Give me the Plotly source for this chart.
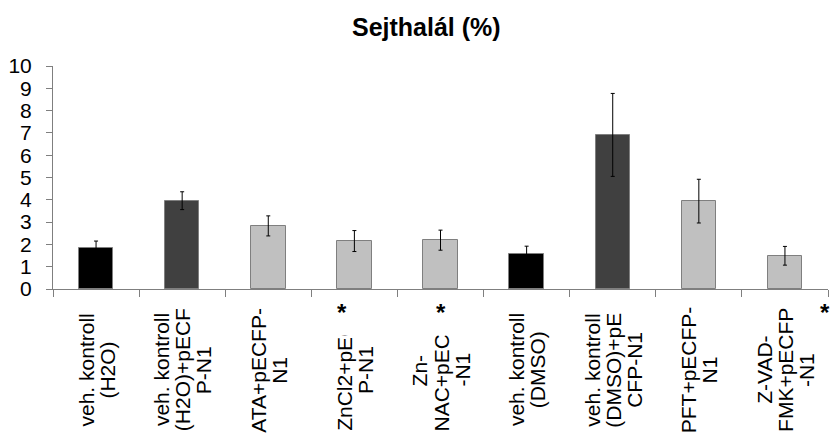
import plotly.graph_objects as go

# ---- data ----
label_lines = [
    ["veh. kontroll", "(H2O)"],
    ["veh. kontroll", "(H2O)+pECF", "P-N1"],
    ["ATA+pECFP-", "N1"],
    ["ZnCl2+pECF", "P-N1"],
    ["Zn-", "NAC+pECFP", "-N1"],
    ["veh. kontroll", "(DMSO)"],
    ["veh. kontroll", "(DMSO)+pE", "CFP-N1"],
    ["PFT+pECFP-", "N1"],
    ["Z-VAD-", "FMK+pECFP", "-N1"],
]
values = [1.86, 3.96, 2.83, 2.15, 2.19, 1.57, 6.91, 3.94, 1.49]
errors = [0.29, 0.40, 0.45, 0.47, 0.45, 0.35, 1.86, 0.98, 0.42]
bar_colors = ["#000000", "#404040", "#c0c0c0", "#c0c0c0", "#c0c0c0",
              "#000000", "#404040", "#c0c0c0", "#c0c0c0"]
y_ticks = list(range(0, 11))
title_text = "Sejthalál (%)"
star_positions = [2.86, 4.01, 8.46]  # x (category units) of significance marks

FONT = "Liberation Sans, Arial, sans-serif"
W, H = 830, 439
ML, MR, MT, MB = 53, 2, 66, 150
plot_h = H - MT - MB

def px_to_paper_y(py):
    return (H - MB - py) / plot_h

x_idx = list(range(len(values)))

fig = go.Figure()
fig.add_trace(go.Bar(
    x=x_idx, y=values, width=0.40,
    marker=dict(color=bar_colors, line=dict(color="#7f7f7f", width=1)),
    error_y=dict(type="data", array=errors, visible=True,
                 color="#000000", thickness=1, width=2),
    showlegend=False,
))

annotations = []
# title
annotations.append(dict(
    text="<b>" + title_text + "</b>", xref="paper", yref="paper",
    x=(426 - ML) / (W - ML - MR), y=px_to_paper_y(27),
    xanchor="center", yanchor="middle", showarrow=False,
    font=dict(family=FONT, size=25, color="#000000"),
))

# category labels, rotated, one annotation per wrapped line
line_step = 0.245
label_center_y = px_to_paper_y(370)
for i, lines in enumerate(label_lines):
    n = len(lines)
    for j, line in enumerate(lines):
        annotations.append(dict(
            text=line, xref="x", yref="paper",
            x=i + (j - (n - 1) / 2) * line_step, y=label_center_y,
            xanchor="center", yanchor="middle", textangle=-90,
            showarrow=False,
            font=dict(family=FONT, size=21, color="#000000"),
        ))

# significance asterisks (their boxes mask part of the labels beneath)
for sx in star_positions:
    annotations.append(dict(
        text="<b>*</b>", xref="x", yref="paper",
        x=sx, y=px_to_paper_y(298),
        xanchor="center", yanchor="top", showarrow=False,
        width=22, height=36, valign="top", align="center",
        bgcolor="#ffffff", borderpad=0,
        font=dict(family=FONT, size=24, color="#000000"),
    ))

fig.update_layout(
    template="none",
    width=W, height=H,
    margin=dict(l=ML, r=MR, t=MT, b=MB, pad=0),
    paper_bgcolor="#ffffff", plot_bgcolor="#ffffff",
    annotations=annotations,
    bargap=0,
    xaxis=dict(
        automargin=False,
        range=[-0.5, len(values) - 0.5],
        tickmode="array",
        tickvals=[k - 0.5 for k in range(len(values) + 1)],
        ticktext=["" for _ in range(len(values) + 1)],
        ticks="outside", ticklen=7, tickcolor="#7f7f7f", tickwidth=1,
        showline=True, linecolor="#7f7f7f", linewidth=1,
        showgrid=False, zeroline=False,
    ),
    yaxis=dict(
        automargin=False,
        range=[0, 10], tickmode="array", tickvals=y_ticks,
        ticktext=[str(t) for t in y_ticks],
        ticks="outside", ticklen=6, tickcolor="#7f7f7f", tickwidth=1,
        showline=True, linecolor="#7f7f7f", linewidth=1,
        showgrid=False, zeroline=False,
        tickfont=dict(family=FONT, size=21, color="#000000"),
        ticklabelstandoff=10,
    ),
)

fig.write_html(
    "out.html",
    config={"displayModeBar": False},
    post_script="document.body.style.margin='0';document.body.style.padding='0';",
)
